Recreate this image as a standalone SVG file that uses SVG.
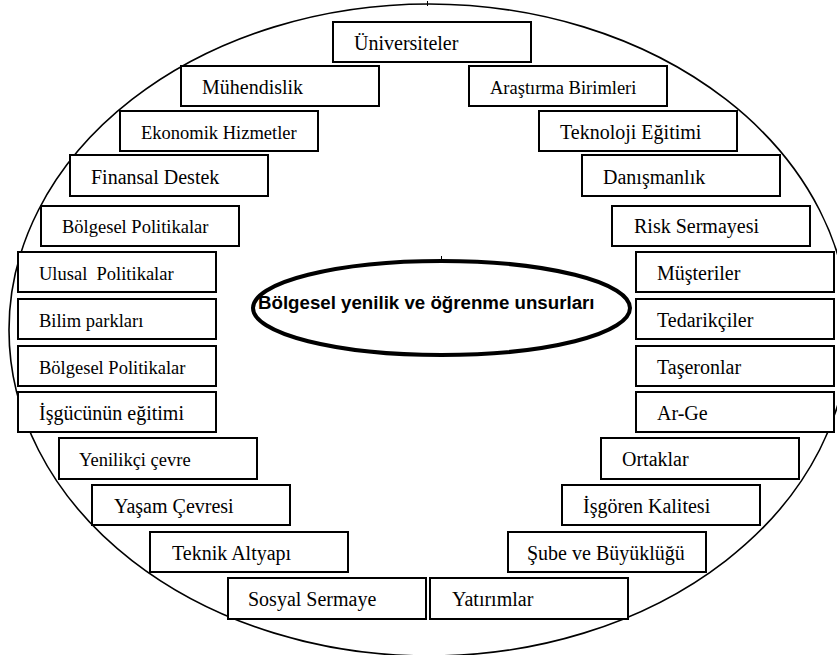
<svg xmlns="http://www.w3.org/2000/svg" width="837" height="655" viewBox="0 0 837 655">
<style>
.box{fill:#fff;stroke:#000;stroke-width:2}
.t{font-family:"Liberation Serif","Times New Roman",serif;font-size:20px;fill:#000;white-space:pre}
.s{font-size:18.5px}
.c{font-family:"Liberation Sans",Arial,sans-serif;font-weight:bold;font-size:18.7px;fill:#000}
</style>
<rect width="837" height="655" fill="#fff"/>
<g id="outer">
<ellipse cx="429" cy="330" rx="420" ry="326" fill="none" stroke="#000" stroke-width="1.6"/>
<line x1="427.5" y1="1" x2="427.5" y2="6" stroke="#000" stroke-width="1"/>
</g>
<g id="center">
<ellipse cx="441.5" cy="308" rx="188.5" ry="47" fill="#fff" stroke="#000" stroke-width="4"/>
<line x1="441.5" y1="256" x2="441.5" y2="263" stroke="#000" stroke-width="1"/>
<text class="c" x="258" y="309">Bölgesel yenilik ve öğrenme unsurları</text>
</g>
<g id="connectors"></g>
<g id="n1"><rect class="box" x="333" y="22" width="198" height="40"/><text class="t" x="354" y="50">Üniversiteler</text></g>
<g id="n2"><rect class="box" x="181" y="66" width="198" height="40"/><text class="t" x="202" y="94">Mühendislik</text></g>
<g id="n3"><rect class="box" x="469" y="66" width="198" height="40"/><text class="t s" x="490" y="94">Araştırma Birimleri</text></g>
<g id="n4"><rect class="box" x="120" y="111" width="198" height="40"/><text class="t s" x="141" y="139">Ekonomik Hizmetler</text></g>
<g id="n5"><rect class="box" x="539" y="111" width="198" height="40"/><text class="t" x="560" y="139">Teknoloji Eğitimi</text></g>
<g id="n6"><rect class="box" x="70" y="155" width="198" height="41"/><text class="t" x="91" y="184">Finansal Destek</text></g>
<g id="n7"><rect class="box" x="582" y="155" width="198" height="41"/><text class="t" x="603" y="184">Danışmanlık</text></g>
<g id="n8"><rect class="box" x="41" y="206" width="198" height="40"/><text class="t s" x="62" y="233">Bölgesel Politikalar</text></g>
<g id="n9"><rect class="box" x="612" y="206" width="198" height="40"/><text class="t" x="634" y="233">Risk Sermayesi</text></g>
<g id="n10"><rect class="box" x="18" y="252" width="198" height="40"/><text class="t s" x="39" y="280">Ulusal  Politikalar</text></g>
<g id="n11"><rect class="box" x="636" y="252" width="198" height="40"/><text class="t" x="657" y="280">Müşteriler</text></g>
<g id="n12"><rect class="box" x="18" y="299" width="198" height="40"/><text class="t s" x="39" y="327">Bilim parkları</text></g>
<g id="n13"><rect class="box" x="636" y="299" width="198" height="40"/><text class="t" x="657" y="327">Tedarikçiler</text></g>
<g id="n14"><rect class="box" x="18" y="346" width="198" height="40"/><text class="t s" x="39" y="374">Bölgesel Politikalar</text></g>
<g id="n15"><rect class="box" x="636" y="346" width="198" height="40"/><text class="t" x="657" y="374">Taşeronlar</text></g>
<g id="n16"><rect class="box" x="18" y="392" width="198" height="40"/><text class="t" x="39" y="420">İşgücünün eğitimi</text></g>
<g id="n17"><rect class="box" x="636" y="392" width="198" height="40"/><text class="t" x="657" y="420">Ar-Ge</text></g>
<g id="n18"><rect class="box" x="59" y="438" width="198" height="41"/><text class="t s" x="79" y="466">Yenilikçi çevre</text></g>
<g id="n19"><rect class="box" x="601" y="438" width="198" height="41"/><text class="t" x="622" y="466">Ortaklar</text></g>
<g id="n20"><rect class="box" x="92" y="485" width="198" height="40"/><text class="t" x="114" y="513">Yaşam Çevresi</text></g>
<g id="n21"><rect class="box" x="562" y="485" width="198" height="40"/><text class="t" x="583" y="513">İşgören Kalitesi</text></g>
<g id="n22"><rect class="box" x="150" y="532" width="198" height="40"/><text class="t" x="172" y="560">Teknik Altyapı</text></g>
<g id="n23"><rect class="box" x="508" y="532" width="198" height="40"/><text class="t" x="527" y="560">Şube ve Büyüklüğü</text></g>
<g id="n24"><rect class="box" x="228" y="578" width="198" height="41"/><text class="t" x="248" y="606">Sosyal Sermaye</text></g>
<g id="n25"><rect class="box" x="430" y="578" width="198" height="41"/><text class="t" x="452" y="606">Yatırımlar</text></g>
</svg>
